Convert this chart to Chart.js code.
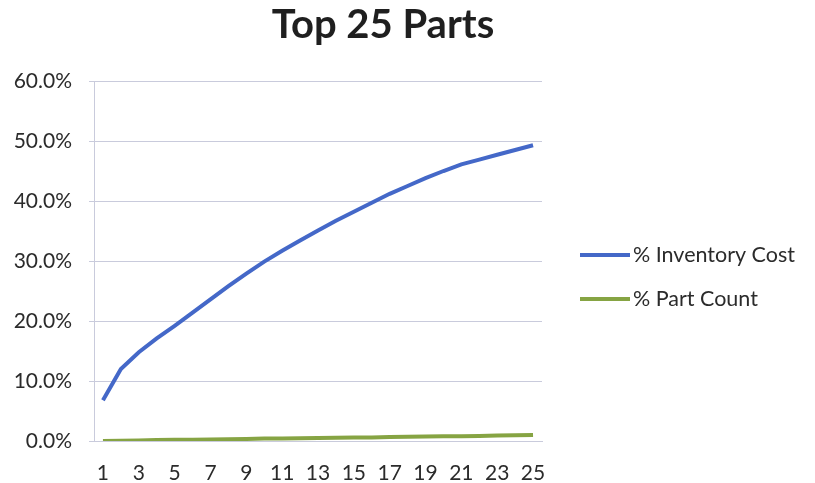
<!DOCTYPE html>
<html>
<head>
<meta charset="utf-8">
<script src="https://cdn.jsdelivr.net/npm/chart.js@4.4.1/dist/chart.umd.min.js"></script>
<style>
  html, body { margin: 0; padding: 0; background: #fff; font-family: Lato, sans-serif; }
  #wrap { width: 815px; height: 483px; position: relative; }
</style>
</head>
<body>
<div id="wrap"><canvas id="chart"></canvas></div>
<script>
const titleText = "Top 25 Parts";
const parts = ["1","2","3","4","5","6","7","8","9","10","11","12","13","14","15","16","17","18","19","20","21","22","23","24","25"];
const inventoryCost = [6.8, 12.0, 14.8, 17.1, 19.2, 21.4, 23.6, 25.8, 27.9, 29.9, 31.7, 33.4, 35.1, 36.7, 38.2, 39.7, 41.2, 42.5, 43.8, 45.0, 46.1, 46.9, 47.7, 48.5, 49.3];
const partCount = [0.0, 0.05, 0.1, 0.15, 0.2, 0.2, 0.25, 0.3, 0.35, 0.4, 0.4, 0.45, 0.5, 0.55, 0.6, 0.6, 0.65, 0.7, 0.75, 0.8, 0.8, 0.85, 0.9, 0.95, 1.0];
const seriesNames = ["% Inventory Cost", "% Part Count"];

const FONT = "Lato";
const TEXT = "#2b2b2b";

// title sits off-centre in the original, so it is drawn by hand
const titlePlugin = {
  id: "offTitle",
  afterDraw(chart) {
    const ctx = chart.ctx;
    ctx.save();
    ctx.font = "bold 40px " + FONT;
    ctx.fillStyle = "#1f1f1f";
    ctx.textAlign = "center";
    ctx.textBaseline = "alphabetic";
    ctx.fillText(titleText, 383, 38);
    ctx.restore();
  }
};

// the built-in right legend gets capped at a quarter of the width, so draw it here
const sideLegend = {
  id: "sideLegend",
  afterDraw(chart) {
    const ctx = chart.ctx;
    const x = chart.chartArea.right + 38;
    ctx.save();
    ctx.font = "21.5px " + FONT;
    ctx.textBaseline = "middle";
    chart.data.datasets.forEach((ds, i) => {
      const y = 255 + i * 44;
      ctx.strokeStyle = ds.borderColor;
      ctx.lineWidth = 4;
      ctx.beginPath();
      ctx.moveTo(x, y);
      ctx.lineTo(x + 50, y);
      ctx.stroke();
      ctx.fillStyle = TEXT;
      ctx.fillText(ds.label, x + 53, y);
    });
    ctx.restore();
  }
};

function makeChart() {
  new Chart(document.getElementById("chart"), {
    type: "line",
    data: {
      labels: parts,
      datasets: [
        {
          label: seriesNames[0],
          data: inventoryCost,
          borderColor: "#4468c8",
          backgroundColor: "#4468c8",
          borderWidth: 4,
          pointRadius: 0,
          tension: 0,
        },
        {
          label: seriesNames[1],
          data: partCount,
          borderColor: "#86a443",
          backgroundColor: "#86a443",
          borderWidth: 4,
          pointRadius: 0,
          tension: 0,
        },
      ],
    },
    options: {
      responsive: true,
      maintainAspectRatio: false,
      animation: false,
      layout: { padding: { top: 81, right: 273, bottom: 0, left: 0 } },
      plugins: {
        legend: { display: false },
        tooltip: { enabled: false },
      },
      scales: {
        x: {
          offset: true,
          afterFit: function (s) { s.height = 42; },
          grid: { display: false },
          border: { color: "#c9cbdc" },
          ticks: {
            font: { family: FONT, size: 21 },
            color: TEXT,
            autoSkip: false,
            maxRotation: 0,
            padding: 12,
            callback: function (v, i) { return i % 2 === 0 ? parts[i] : ""; },
          },
        },
        y: {
          min: 0,
          max: 60,
          afterFit: function (s) { s.width = 94; },
          grid: { color: "#c9cbdc", tickLength: 5 },
          border: { color: "#c9cbdc" },
          ticks: {
            stepSize: 10,
            font: { family: FONT, size: 21 },
            color: TEXT,
            padding: 17,
            callback: function (v) { return v.toFixed(1) + "%"; },
          },
        },
      },
    },
    plugins: [titlePlugin, sideLegend],
  });
}

document.fonts.load("20px Lato").then(makeChart, makeChart);
</script>
</body>
</html>
